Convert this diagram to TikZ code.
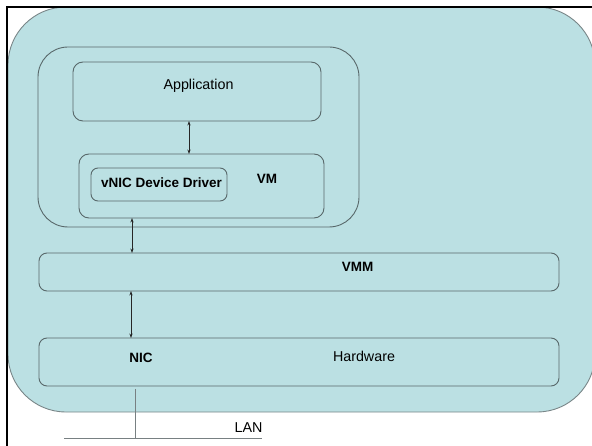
\documentclass[tikz,border=0pt]{standalone}
\usepackage{fontspec}
\setmainfont{Liberation Sans}
\usetikzlibrary{arrows.meta}
\definecolor{hostfill}{RGB}{187,224,227}
\definecolor{edgegray}{RGB}{88,104,106}
\definecolor{wire}{RGB}{120,128,130}
\begin{document}
\begin{tikzpicture}[x=1pt,y=-1pt,
  box/.style={draw=edgegray, line width=0.9pt, inner sep=0pt, outer sep=0pt,
              rounded corners=#1},
  box/.default=9pt,
  txt/.style={font=\fontsize{14.3}{16}\selectfont, inner sep=0pt, anchor=base},
  btxt/.style={font=\fontsize{13.5}{15}\selectfont\bfseries, inner sep=0pt, anchor=base},
  link/.style={draw=black!85, line width=0.8pt,
               {Stealth[length=4.5pt,width=3.2pt]}-{Stealth[length=4.5pt,width=3.2pt]}},
  lanline/.style={draw=wire, line width=1pt}]
  \useasboundingbox (0,0) rectangle (592,446);
  \clip (0,0) rectangle (592,446);

  % host machine
  \node[box=58pt, fill=hostfill, draw=edgegray!80, minimum width=587pt, minimum height=405pt]
    (host) at (301.5,209.5) {};

  % virtual machine and its contents
  \node[box=30pt, minimum width=321pt, minimum height=180pt] (vm) at (198.5,137) {};
  \node[box=10pt, minimum width=248pt, minimum height=59pt] (app) at (197,91.5) {};
  \node[box=10pt, minimum width=245pt, minimum height=64pt] (vmbox) at (201.5,186) {};
  \node[box=7pt, minimum width=136pt, minimum height=33pt] (vnic) at (159,184.5) {};

  % hypervisor and hardware layers
  \node[box=8pt, minimum width=520pt, minimum height=38pt] (vmm) at (299,272) {};
  \node[box=8pt, minimum width=520pt, minimum height=48pt] (hw) at (299,362) {};

  % labels
  \node[txt]  (tapp)  at (198.5,89.3)  {Application};
  \node[btxt] (tvnic) at (161.5,187.7) {vNIC Device Driver};
  \node[btxt] (tvm)   at (267,183.3)   {VM};
  \node[btxt] (tvmm)  at (357.5,271.3) {VMM};
  \node[btxt] (tnic)  at (141,362.5)   {NIC};
  \node[txt]  (thw)   at (364,362)     {Hardware};
  \node[txt]  (tlan)  at (248.5,432.3) {LAN};

  % connectors
  \coordinate (xa) at (189,0);
  \coordinate (xb) at (132,0);
  \coordinate (xc) at (131,0);
  \coordinate (xl) at (135,0);
  \draw[link] (app.south -| xa) -- (vmbox.north -| xa);
  \draw[link] (vmbox.south -| xb) -- (vmm.north -| xb);
  \draw[link] (vmm.south -| xc) -- (hw.north -| xc);

  % network attachment
  \coordinate (lanl) at (64,438);
  \coordinate (lanr) at (262,438);
  \draw[lanline] (hw.south -| xl) ++(0,3) -- (lanl -| xl);
  \draw[lanline] (lanl) -- (lanr);

  % frame
  \draw[black, line width=2pt] (7,446) -- (7,7) -- (592,7);
\end{tikzpicture}
\end{document}
